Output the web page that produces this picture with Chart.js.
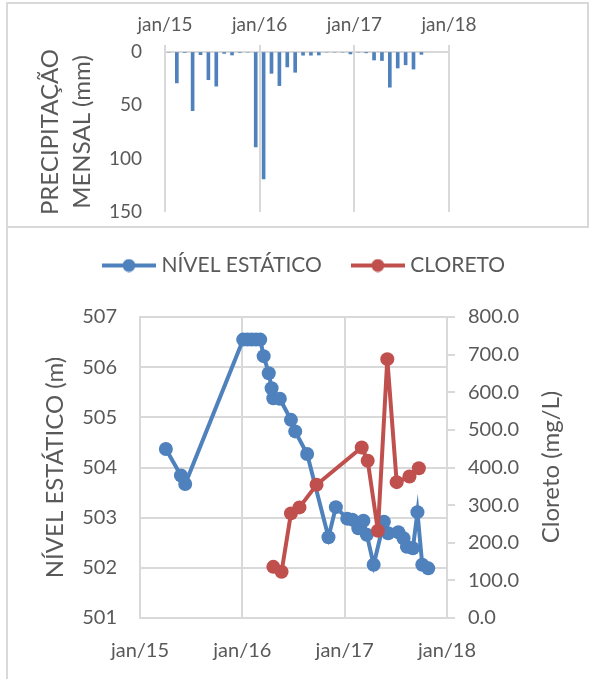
<!DOCTYPE html>
<html>
<head>
<meta charset="utf-8">
<script src="https://cdn.jsdelivr.net/npm/chart.js@4.4.1/dist/chart.umd.min.js"></script>
<style>
  html, body { margin: 0; padding: 0; background: #fff; }
  body { width: 591px; height: 679px; position: relative; overflow: hidden; }
  canvas { position: absolute; left: 0; }
  #chuva { top: 0; }
  #nivel { top: 228px; }
  .frame { position: absolute; border: 0 solid #d9d9d9; pointer-events: none; }
</style>
</head>
<body>
<canvas id="chuva" width="591" height="226"></canvas>
<canvas id="nivel" width="591" height="451"></canvas>
<div class="frame" style="left:6px;top:2px;width:579px;height:222px;border-width:2px;"></div>
<div class="frame" style="left:6px;top:226px;width:0;height:460px;border-left-width:2px;"></div>
<script>
'use strict';

const anoLabels = ['jan/15', 'jan/16', 'jan/17', 'jan/18'];

// precipitação mensal (mm), um valor por mês a partir de jan/2015
const precipitacao = [
  0, 29, 0.5, 55, 2.5, 26, 32, 1.3, 2.8, 0.5, 0, 89,
  119, 20, 31.5, 14, 19, 3, 3, 2.8, 0, 0, 0, 1.8,
  0, 0.8, 7.5, 8, 33, 15, 12, 16, 2.2,
];

const nivelDatas = [
  '2015-04-02', '2015-05-25', '2015-06-10',
  '2016-01-04', '2016-01-19', '2016-02-04', '2016-02-19', '2016-03-04',
  '2016-03-16', '2016-04-04', '2016-04-14', '2016-04-20', '2016-05-13',
  '2016-06-22', '2016-07-07', '2016-08-19', '2016-11-04', '2016-11-30',
  '2017-01-10', '2017-01-28', '2017-02-19', '2017-03-07', '2017-03-19',
  '2017-04-13', '2017-05-19', '2017-06-04', '2017-07-10', '2017-07-28',
  '2017-08-10', '2017-09-01', '2017-09-17', '2017-10-04', '2017-10-25',
];
const nivelValores = [
  504.37, 503.84, 503.67,
  506.55, 506.55, 506.55, 506.55, 506.55,
  506.22, 505.88, 505.58, 505.38, 505.37,
  504.95, 504.72, 504.27, 502.61, 503.21,
  502.98, 502.96, 502.79, 502.94, 502.66,
  502.06, 502.92, 502.69, 502.71, 502.59,
  502.42, 502.39, 503.11, 502.06, 501.99,
];

const cloretoDatas = [
  '2016-04-20', '2016-05-19', '2016-06-22', '2016-07-22', '2016-09-22',
  '2017-03-01', '2017-03-22', '2017-04-28', '2017-06-01', '2017-07-04',
  '2017-08-19', '2017-09-22',
];
const cloretoValores = [136, 123, 278, 294, 354, 453, 418, 232, 688, 361, 376, 398];

const AZUL = '#4F81BD';
const VERMELHO = '#C0504D';
const CINZA = '#d9d9d9';
const TEXTO = '#595959';
const FONTE = 'Lato';

// meses desde jan/2015
function meses(d) {
  const [a, m, dia] = d.split('-').map(Number);
  return (a - 2015) * 12 + (m - 1) + (dia - 1) / 30;
}

const anoTick = v => anoLabels[Math.round(v / 12)] ?? '';

new Chart('chuva', {
  type: 'bar',
  data: {
    datasets: [{
      data: precipitacao.map((v, i) => ({ x: i + 0.5, y: v })),
      backgroundColor: AZUL,
      barThickness: 3,
    }]
  },
  options: {
    responsive: false,
    animation: false,
    layout: { padding: { left: 0, right: 142, top: 0, bottom: 14 } },
    plugins: { legend: { display: false }, tooltip: { enabled: false } },
    scales: {
      x: {
        type: 'linear', position: 'top', min: 0, max: 36, offset: false,
        afterFit: s => { s.height = 52; },
        grid: { color: CINZA, lineWidth: 2, tickLength: 7, offset: false },
        border: { color: CINZA, width: 2 },
        ticks: { stepSize: 12, callback: anoTick, color: TEXTO, padding: 9, maxRotation: 0, font: { family: FONTE, size: 19 } },
      },
      y: {
        reverse: true, min: 0, max: 150,
        afterFit: s => { s.width = 165; },
        // marcas transparentes só para afastar os rótulos do eixo
        grid: { color: 'transparent', drawOnChartArea: false, tickLength: 23 },
        border: { display: false },
        ticks: { stepSize: 50, color: TEXTO, padding: 0, font: { family: FONTE, size: 19 } },
        title: {
          display: true, text: ['PRECIPITAÇÃO', 'MENSAL (mm)'], color: TEXTO,
          padding: { top: 34, bottom: 0 }, font: { family: FONTE, size: 24, lineHeight: 1.33 },
        },
      },
    },
  },
});

function marcaLegenda(cor) {
  const c = document.createElement('canvas');
  c.width = 54; c.height = 14;
  const g = c.getContext('2d');
  g.strokeStyle = cor; g.lineWidth = 4;
  g.beginPath(); g.moveTo(0, 7); g.lineTo(54, 7); g.stroke();
  g.fillStyle = cor;
  g.beginPath(); g.arc(27, 7, 6.5, 0, Math.PI * 2); g.fill();
  return c;
}
const marcas = [marcaLegenda(AZUL), marcaLegenda(VERMELHO)];

const tituloDireita = {
  id: 'tituloDireita',
  afterDraw(chart) {
    const ctx = chart.ctx;
    ctx.save();
    ctx.translate(551, 239);
    ctx.rotate(-Math.PI / 2);
    ctx.font = '24px ' + FONTE;
    ctx.fillStyle = TEXTO;
    ctx.textAlign = 'center';
    ctx.textBaseline = 'middle';
    ctx.fillText('Cloreto (mg/L)', 0, 0);
    ctx.restore();
  }
};

new Chart('nivel', {
  type: 'line',
  data: {
    datasets: [{
      label: 'NÍVEL ESTÁTICO',
      data: nivelDatas.map((d, i) => ({ x: meses(d), y: nivelValores[i] })),
      borderColor: AZUL, backgroundColor: AZUL,
      borderWidth: 4, pointRadius: 7, pointBorderWidth: 0, pointStyle: 'circle',
      yAxisID: 'y', order: 2,
    }, {
      label: 'CLORETO',
      data: cloretoDatas.map((d, i) => ({ x: meses(d), y: cloretoValores[i] })),
      borderColor: VERMELHO, backgroundColor: VERMELHO,
      borderWidth: 4, pointRadius: 7, pointBorderWidth: 0, pointStyle: 'circle',
      yAxisID: 'y2', order: 1,
    }]
  },
  options: {
    responsive: false,
    animation: false,
    layout: { padding: { left: 21, right: 0, top: -7, bottom: 0 } },
    plugins: {
      tooltip: { enabled: false },
      legend: {
        position: 'top',
        labels: {
          usePointStyle: true, pointStyleWidth: 44, padding: 34,
          color: TEXTO, font: { family: FONTE, size: 21 },
          sort: (a, b) => a.datasetIndex - b.datasetIndex,
          generateLabels: chart => Chart.defaults.plugins.legend.labels.generateLabels(chart)
            .map(l => Object.assign(l, { pointStyle: marcas[l.datasetIndex] })),
        },
      },
    },
    scales: {
      x: {
        type: 'linear', min: 0, max: 36,
        afterFit: s => { s.height = 61; },
        grid: { color: CINZA, lineWidth: 2, drawTicks: false },
        border: { color: CINZA, width: 2 },
        ticks: { stepSize: 12, callback: anoTick, color: TEXTO, padding: 21, maxRotation: 0, font: { family: FONTE, size: 20 } },
      },
      // espaço vazio entre a legenda e a área do gráfico
      espaco: {
        type: 'linear', position: 'top', min: 0, max: 1,
        afterFit: s => { s.height = 31; },
        grid: { display: false, drawTicks: false },
        border: { display: false },
        ticks: { display: false },
      },
      y: {
        position: 'left', min: 501, max: 507,
        afterFit: s => { s.width = 119; },
        grid: { color: CINZA, lineWidth: 2, drawTicks: false },
        border: { color: CINZA, width: 2 },
        ticks: { stepSize: 1, color: TEXTO, padding: 23, font: { family: FONTE, size: 20 } },
        title: {
          display: true, text: 'NÍVEL ESTÁTICO (m)', color: TEXTO,
          padding: { top: 20, bottom: 0 }, font: { family: FONTE, size: 24 },
        },
      },
      y2: {
        position: 'right', min: 0, max: 800,
        afterFit: s => { s.width = 144; },
        grid: { drawOnChartArea: false, color: CINZA, lineWidth: 2, tickLength: 8 },
        border: { color: CINZA, width: 2 },
        ticks: { stepSize: 100, callback: v => v.toFixed(1), color: TEXTO, padding: 13, font: { family: FONTE, size: 20 } },
      },
    },
  },
  plugins: [tituloDireita],
});
</script>
</body>
</html>
